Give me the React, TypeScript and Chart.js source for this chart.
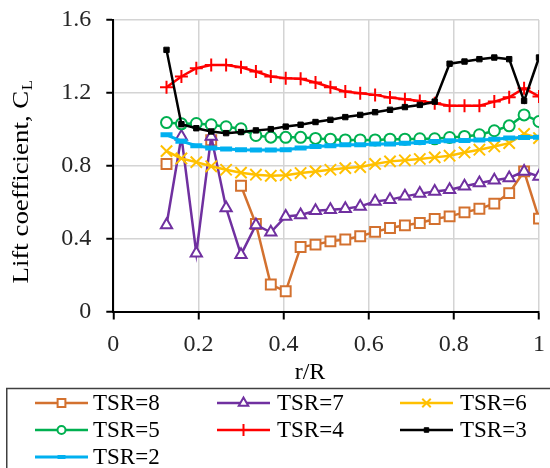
import { useEffect, useRef } from 'react';
import { Chart, registerables } from 'chart.js';

Chart.register(...registerables);

// Radial stations along the blade, r/R
const radialPositions = [
  0.125, 0.16, 0.195, 0.23, 0.265, 0.3, 0.335, 0.37, 0.405, 0.44, 0.475, 0.51, 0.545,
  0.58, 0.615, 0.65, 0.685, 0.72, 0.755, 0.79, 0.825, 0.86, 0.895, 0.93, 0.965, 1.0,
];

// Lift coefficient per tip speed ratio (null = no value at that station)
const tsr8 = [
  0.81, null, null, 0.94, null, 0.69, 0.48, 0.148, 0.111, 0.354, 0.367, 0.385, 0.395,
  0.413, 0.437, 0.458, 0.473, 0.486, 0.508, 0.522, 0.544, 0.564, 0.592, 0.65, 0.769, 0.51,
];
const tsr7 = [
  0.475, 0.96, 0.32, 0.96, 0.568, 0.312, 0.475, 0.435, 0.522, 0.53, 0.553, 0.559, 0.564,
  0.577, 0.604, 0.614, 0.632, 0.647, 0.659, 0.668, 0.687, 0.705, 0.72, 0.733, 0.769, 0.741,
];
const tsr6 = [
  0.88, 0.84, 0.82, 0.797, 0.778, 0.762, 0.751, 0.745, 0.748, 0.76, 0.769, 0.778, 0.787,
  0.793, 0.81, 0.824, 0.83, 0.837, 0.846, 0.855, 0.873, 0.888, 0.906, 0.924, 0.975, 0.952,
];
const tsr5 = [
  1.037, 1.03, 1.032, 1.025, 1.014, 1.003, 0.966, 0.957, 0.956, 0.956, 0.95, 0.946, 0.942,
  0.942, 0.942, 0.946, 0.946, 0.948, 0.948, 0.955, 0.961, 0.97, 0.992, 1.019, 1.079, 1.043,
];
const tsr4 = [
  1.231, 1.29, 1.335, 1.353, 1.353, 1.341, 1.317, 1.29, 1.28, 1.277, 1.257, 1.231, 1.207,
  1.198, 1.189, 1.174, 1.165, 1.156, 1.143, 1.13, 1.13, 1.13, 1.152, 1.176, 1.226, 1.18,
];
const tsr3 = [
  1.436, 1.028, 1.006, 0.988, 0.979, 0.985, 0.994, 1.001, 1.015, 1.025, 1.04, 1.052, 1.067,
  1.079, 1.094, 1.107, 1.122, 1.134, 1.152, 1.36, 1.372, 1.385, 1.394, 1.385, 1.156, 1.394,
];
const tsr2 = [
  0.97, 0.935, 0.91, 0.897, 0.892, 0.888, 0.886, 0.886, 0.888, 0.897, 0.906, 0.91, 0.915,
  0.915, 0.919, 0.92, 0.924, 0.928, 0.933, 0.937, 0.939, 0.942, 0.946, 0.952, 0.955, 0.957,
];

const seriesLabels = ['TSR=8', 'TSR=7', 'TSR=6', 'TSR=5', 'TSR=4', 'TSR=3', 'TSR=2'];
const seriesValues = [tsr8, tsr7, tsr6, tsr5, tsr4, tsr3, tsr2];

const xTickLabels = ['0', '0.2', '0.4', '0.6', '0.8', '1'];
const yTickLabels = ['0', '0.4', '0.8', '1.2', '1.6'];
const xStep = 0.2;
const yStep = 0.4;

type MarkerStyle = 'rect' | 'triangle' | 'crossRot' | 'circle' | 'cross' | 'line';

interface SeriesStyle {
  color: string;
  marker: MarkerStyle;
  radius: number;
  legendRadius: number;
  fill: string;
  markerWidth: number;
  lineWidth: number;
}

const seriesStyles: SeriesStyle[] = [
  { color: '#D3712F', marker: 'rect', radius: 7, legendRadius: 5.5, fill: '#ffffff', markerWidth: 2, lineWidth: 2.5 },
  { color: '#7030A0', marker: 'triangle', radius: 6.5, legendRadius: 5.5, fill: '#ffffff', markerWidth: 2, lineWidth: 2.5 },
  { color: '#FFC000', marker: 'crossRot', radius: 8, legendRadius: 6, fill: '#FFC000', markerWidth: 2, lineWidth: 2.5 },
  { color: '#00B050', marker: 'circle', radius: 5.5, legendRadius: 4, fill: '#ffffff', markerWidth: 2, lineWidth: 2.5 },
  { color: '#FF0000', marker: 'cross', radius: 6.5, legendRadius: 6, fill: '#FF0000', markerWidth: 2, lineWidth: 2.5 },
  { color: '#000000', marker: 'rect', radius: 3.8, legendRadius: 3.2, fill: '#000000', markerWidth: 1, lineWidth: 2.5 },
  { color: '#00B0F0', marker: 'line', radius: 6, legendRadius: 4, fill: '#00B0F0', markerWidth: 5, lineWidth: 3 },
];

const FONT = '"Liberation Serif", "Times New Roman", serif';

function drawMarker(
  ctx: CanvasRenderingContext2D,
  s: SeriesStyle,
  x: number,
  y: number,
  r: number,
) {
  ctx.save();
  ctx.strokeStyle = s.color;
  ctx.fillStyle = s.fill;
  ctx.lineWidth = s.marker === 'line' ? 4 : s.markerWidth;
  ctx.beginPath();
  switch (s.marker) {
    case 'rect': {
      const h = r * Math.SQRT1_2;
      ctx.rect(x - h, y - h, 2 * h, 2 * h);
      ctx.fill();
      ctx.stroke();
      break;
    }
    case 'triangle': {
      for (let i = 0; i < 3; i++) {
        const a = (i * 2 * Math.PI) / 3;
        const px = x + Math.sin(a) * r;
        const py = y - Math.cos(a) * r;
        if (i === 0) ctx.moveTo(px, py);
        else ctx.lineTo(px, py);
      }
      ctx.closePath();
      ctx.fill();
      ctx.stroke();
      break;
    }
    case 'circle':
      ctx.arc(x, y, r, 0, Math.PI * 2);
      ctx.fill();
      ctx.stroke();
      break;
    case 'cross':
      ctx.moveTo(x - r, y);
      ctx.lineTo(x + r, y);
      ctx.moveTo(x, y - r);
      ctx.lineTo(x, y + r);
      ctx.stroke();
      break;
    case 'crossRot': {
      const o = r * Math.SQRT1_2;
      ctx.moveTo(x - o, y - o);
      ctx.lineTo(x + o, y + o);
      ctx.moveTo(x - o, y + o);
      ctx.lineTo(x + o, y - o);
      ctx.stroke();
      break;
    }
    case 'line':
      ctx.moveTo(x - r, y);
      ctx.lineTo(x + r, y);
      ctx.stroke();
      break;
  }
  ctx.restore();
}

// Axis titles and the boxed three-column legend under the plot
const annotationPlugin = {
  id: 'annotations',
  afterDraw(chart: Chart) {
    const ctx = chart.ctx;
    ctx.save();
    ctx.fillStyle = '#000000';

    // y-axis title with subscript
    ctx.save();
    ctx.translate(22, 182);
    ctx.rotate(-Math.PI / 2);
    ctx.scale(1.12, 1);
    const main = 'Lift coefficient, C';
    const sub = 'L';
    ctx.font = `24px ${FONT}`;
    const w1 = ctx.measureText(main).width;
    ctx.font = `15px ${FONT}`;
    const w2 = ctx.measureText(sub).width;
    const start = -(w1 + w2) / 2;
    ctx.textBaseline = 'middle';
    ctx.textAlign = 'left';
    ctx.font = `24px ${FONT}`;
    ctx.fillText(main, start, 0);
    ctx.font = `15px ${FONT}`;
    ctx.fillText(sub, start + w1 + 0.5, 6);
    ctx.restore();

    // x-axis title
    ctx.font = `24px ${FONT}`;
    ctx.textAlign = 'center';
    ctx.textBaseline = 'middle';
    ctx.fillText('r/R', 310, 373);

    // legend frame
    ctx.strokeStyle = '#404040';
    ctx.lineWidth = 1.5;
    ctx.strokeRect(6.75, 388.5, 560, 100);

    const colLine = [35, 217, 400];
    const colText = [93, 277, 460];
    const rowY = [403, 430, 457];
    seriesLabels.forEach((label, i) => {
      const s = seriesStyles[i];
      const col = i % 3;
      const row = Math.floor(i / 3);
      const y = rowY[row];
      const x0 = colLine[col];
      const x1 = x0 + 53;
      ctx.save();
      ctx.strokeStyle = s.color;
      ctx.lineWidth = s.lineWidth;
      ctx.beginPath();
      ctx.moveTo(x0, y);
      ctx.lineTo(x1, y);
      ctx.stroke();
      ctx.restore();
      drawMarker(ctx, s, (x0 + x1) / 2, y, s.legendRadius);
      ctx.fillStyle = '#000000';
      ctx.font = `23px ${FONT}`;
      ctx.textAlign = 'left';
      ctx.textBaseline = 'middle';
      ctx.fillText(label, colText[col], y + 1);
    });
    ctx.restore();
  },
};

export default function App() {
  const canvasRef = useRef<HTMLCanvasElement | null>(null);

  useEffect(() => {
    const canvas = canvasRef.current;
    if (!canvas) return;

    const datasets = seriesLabels.map((label, i) => {
      const s = seriesStyles[i];
      return {
        label,
        data: radialPositions.map((r, k) => ({ x: r, y: seriesValues[i][k] })),
        borderColor: s.color,
        backgroundColor: s.fill,
        borderWidth: s.lineWidth,
        pointStyle: s.marker,
        pointRadius: s.radius,
        pointHoverRadius: s.radius,
        pointBorderColor: s.color,
        pointBackgroundColor: s.fill,
        pointBorderWidth: s.markerWidth,
        tension: 0,
        spanGaps: false,
        fill: false,
        // later series sit on top of earlier ones
        order: seriesLabels.length - i,
      };
    });

    const chart = new Chart(canvas, {
      type: 'line',
      data: { datasets: datasets as any },
      options: {
        responsive: false,
        animation: false,
        layout: { padding: { top: 20, right: 10, left: 0, bottom: 0 } },
        plugins: {
          legend: { display: false },
          tooltip: { enabled: false },
          title: { display: false },
        },
        scales: {
          x: {
            type: 'linear',
            min: 0,
            max: 1,
            ticks: {
              stepSize: xStep,
              autoSkip: false,
              maxRotation: 0,
              padding: 11,
              color: '#262626',
              font: { family: FONT, size: 24 },
              callback: (v: any) => xTickLabels[Math.round(Number(v) / xStep)] ?? '',
            },
            grid: {
              color: '#d4d4d4',
              lineWidth: 1.5,
              tickColor: '#000000',
              tickLength: 8,
              tickWidth: 2,
            },
            border: { color: '#000000', width: 2 },
            afterFit: (scale: any) => {
              scale.height = 468 - 311.5;
              scale.paddingLeft = 0;
              scale.paddingRight = 0;
            },
          },
          y: {
            type: 'linear',
            min: 0,
            max: 1.6,
            ticks: {
              stepSize: yStep,
              padding: 15,
              color: '#262626',
              font: { family: FONT, size: 24 },
              callback: (v: any) => yTickLabels[Math.round(Number(v) / yStep)] ?? '',
            },
            grid: {
              color: '#d4d4d4',
              lineWidth: 1.5,
              tickColor: '#000000',
              tickLength: 7,
              tickWidth: 2,
            },
            border: { color: '#000000', width: 2 },
            afterFit: (scale: any) => {
              scale.width = 113.3;
              scale.paddingTop = 0;
              scale.paddingBottom = 0;
            },
          },
        },
      },
      plugins: [annotationPlugin],
    });

    return () => chart.destroy();
  }, []);

  return (
    <div style={{ position: 'fixed', left: 0, top: 0, width: 550, height: 468, background: '#ffffff' }}>
      <canvas ref={canvasRef} width={550} height={468} style={{ display: 'block' }} />
    </div>
  );
}
